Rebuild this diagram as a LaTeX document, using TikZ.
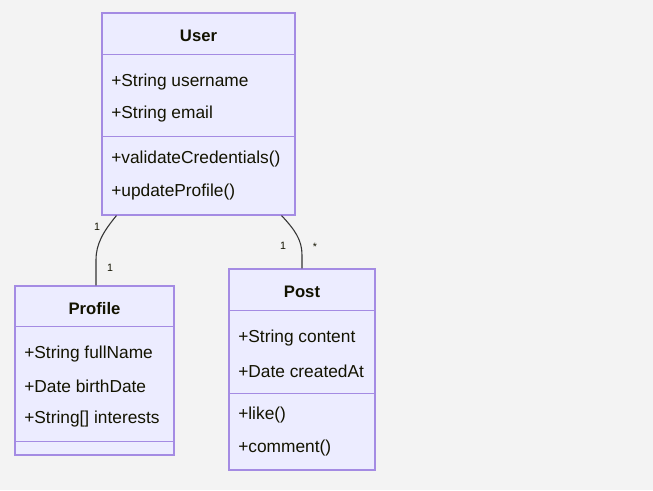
\documentclass[tikz,border=0pt]{standalone}
\usepackage{fontspec}
\setmainfont{Liberation Sans}
\usetikzlibrary{calc}
\definecolor{bgcol}{HTML}{F3F3F3}
\definecolor{boxfill}{HTML}{ECECFF}
\definecolor{boxline}{HTML}{A48BE3}
\definecolor{txt}{HTML}{131300}
\definecolor{edge}{HTML}{333333}
\begin{document}
\begin{tikzpicture}[x=0.75pt,y=-0.75pt,
  classbox/.style={draw=boxline,fill=boxfill,line width=0.8pt,inner sep=0pt},
  divider/.style={draw=boxline,line width=0.8pt},
  title/.style={font=\bfseries\fontsize{12.5}{14}\selectfont,text=txt,inner sep=0pt},
  member/.style={font=\fontsize{13}{15}\selectfont,text=txt,anchor=west,inner sep=0pt},
  mult/.style={font=\fontsize{8}{9}\selectfont,text=txt,inner sep=0pt},
  conn/.style={draw=edge,line width=0.8pt}]
\fill[bgcol] (0,0) rectangle (653,490);
\useasboundingbox (0,0) rectangle (653,490);

% User class
\node[classbox,minimum width=144.75pt,minimum height=151.5pt] (user) at (198.5,114) {};
\draw[divider] ($(user.north west)+(0,42)$) -- ($(user.north east)+(0,42)$);
\draw[divider] ($(user.north west)+(0,124)$) -- ($(user.north east)+(0,124)$);
\node[title] (usert) at (198.5,36) {User};
\node[member] (u1) at (111,82) {+String username};
\node[member] (u2) at (111,114) {+String email};
\node[member] (u3) at (111,159) {+validateCredentials()};
\node[member] (u4) at (111,192) {+updateProfile()};

% Profile class
\node[classbox,minimum width=119.25pt,minimum height=126.75pt] (profile) at (94.5,370.5) {};
\draw[divider] ($(profile.north west)+(0,41)$) -- ($(profile.north east)+(0,41)$);
\draw[divider] ($(profile.north west)+(0,156)$) -- ($(profile.north east)+(0,156)$);
\node[title] (profilet) at (94.5,309) {Profile};
\node[member] (p1) at (24,354) {+String fullName};
\node[member] (p2) at (24,386) {+Date birthDate};
\node[member] (p3) at (24,419) {+String[] interests};

% Post class
\node[classbox,minimum width=109.5pt,minimum height=150.75pt] (post) at (302,369.5) {};
\draw[divider] ($(post.north west)+(0,42)$) -- ($(post.north east)+(0,42)$);
\draw[divider] ($(post.north west)+(0,125)$) -- ($(post.north east)+(0,125)$);
\node[title] (postt) at (302,292) {Post};
\node[member] (q1) at (238,338) {+String content};
\node[member] (q2) at (238,371) {+Date createdAt};
\node[member] (q3) at (238,415) {+like()};
\node[member] (q4) at (238,448) {+comment()};

% Associations
\draw[conn] ([xshift=11.25pt]user.south west) .. controls (103,232) and (96,244) .. (96,260) -- ([xshift=1.125pt]profile.north);
\draw[conn] ([xshift=-10.5pt]user.south east) .. controls (295,230) and (302,240) .. (302,255) -- (post.north);

% Multiplicities
\node[mult] (m1) at (97,227) {1};
\node[mult] (m2) at (110,268) {1};
\node[mult] (m3) at (283,246) {1};
\node[mult] (m4) at (315,247) {*};
\end{tikzpicture}
\end{document}
